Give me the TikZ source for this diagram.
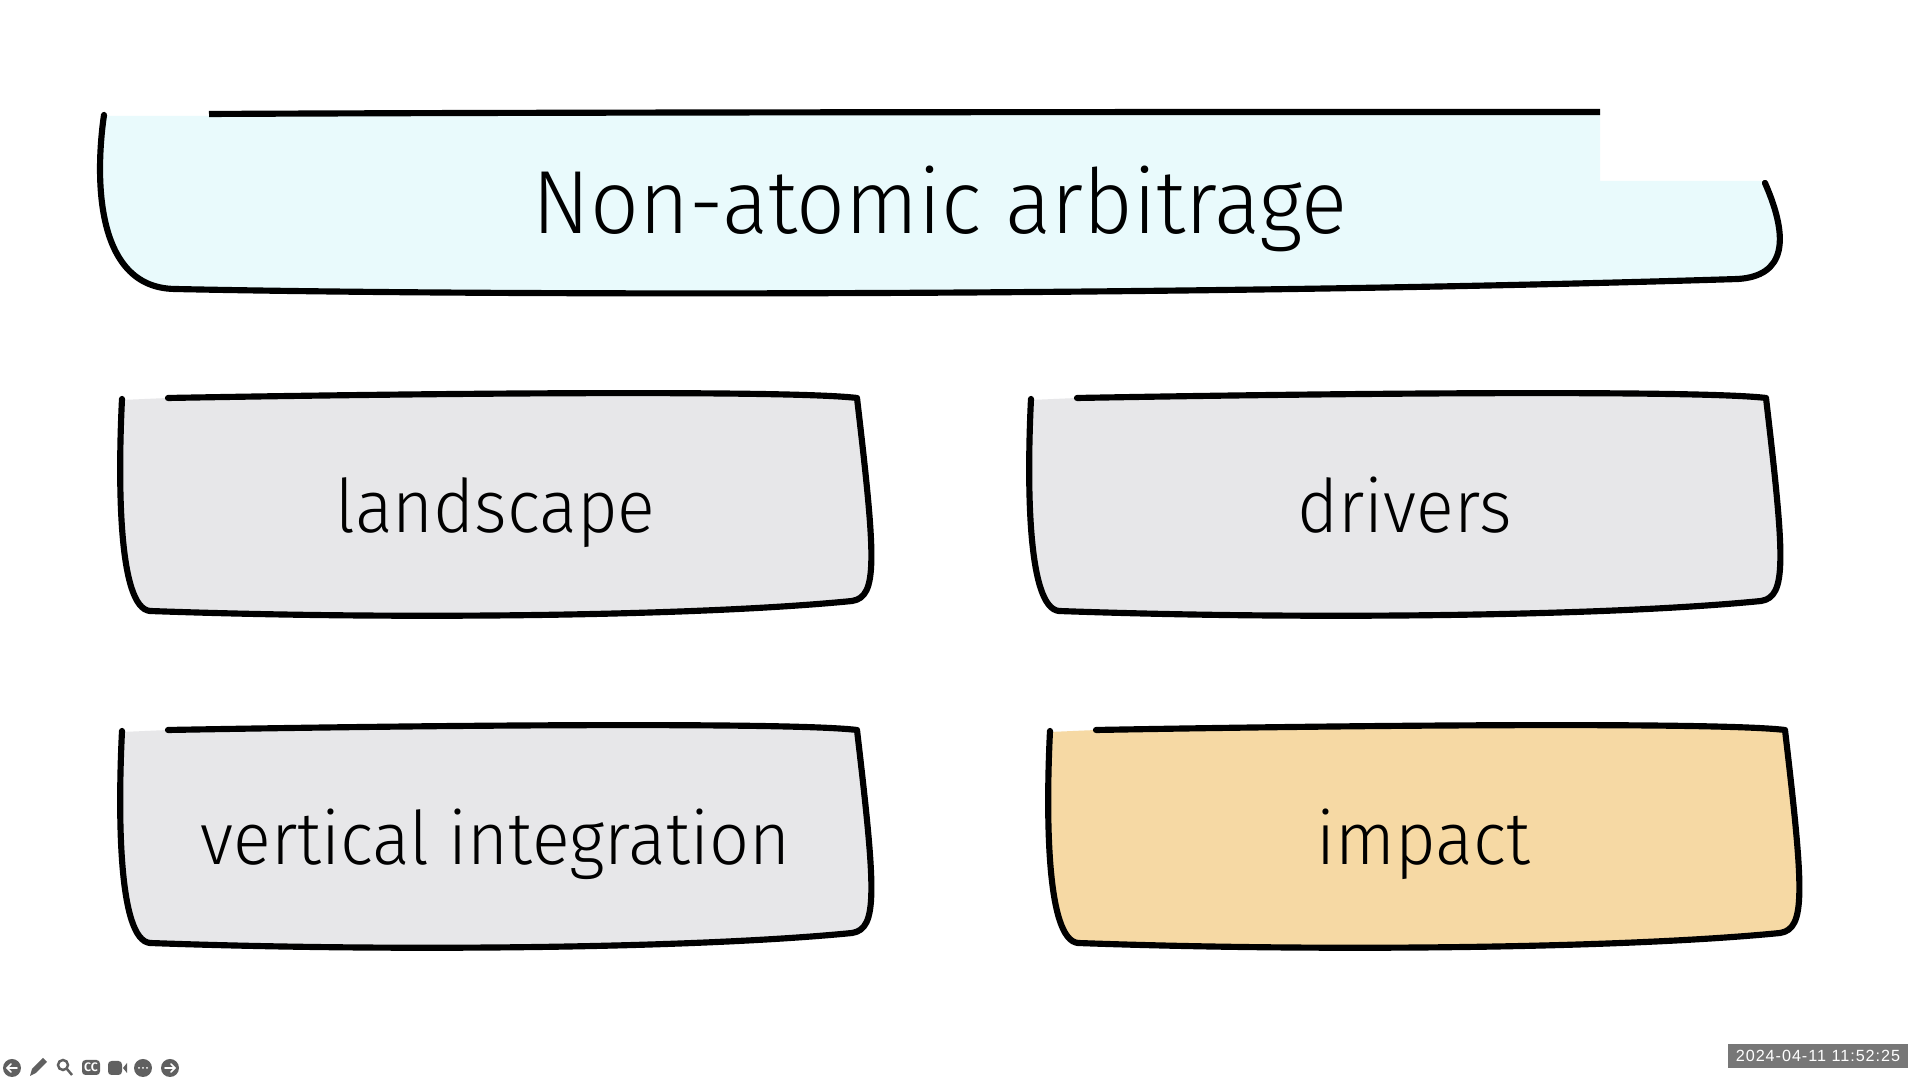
\documentclass[tikz,border=0pt]{standalone}
\usepackage{fontspec}
\setmainfont{Fira Sans Light}
\newfontfamily\stampfont[LetterSpace=6]{Liberation Sans}
\newfontfamily\titlefont[FakeStretch=.955]{Fira Sans Light}
\newfontfamily\boxfont[FakeStretch=.95]{Fira Sans Light}
\definecolor{titlefill}{HTML}{E9FAFC}
\definecolor{greyfill}{HTML}{E7E7E9}
\definecolor{impactfill}{HTML}{F6D9A4}
\definecolor{iconcol}{HTML}{606060}
\definecolor{stampcol}{HTML}{777777}
\tikzset{
  x=0.01cm, y=-0.01cm,
  ink/.style={line width=1.75pt,line cap=round,line join=round,black},
  bigtext/.style={anchor=base,inner sep=0,font=\fontsize{25.5}{30}\titlefont},
  boxtext/.style={anchor=base,inner sep=0,font=\fontsize{21}{26}\boxfont},
  icon/.style={fill=iconcol,draw=none},
  iconline/.style={draw=white,line width=.45pt,line cap=round}
}

\begin{document}
\begin{tikzpicture}
    \useasboundingbox (0,0) rectangle (1920,1080);
    \fill[white] (0,0) rectangle (1920,1080);

    % title box
    \fill[titlefill] (104,116) .. controls (96,170) and (92,288) .. (175,289)
      .. controls (500,296) and (1200,296) .. (1738,279)
      .. controls (1785,276) and (1790,240) .. (1763,181)
      -- (1600,181) -- (1600,113) -- cycle;
    \draw[ink] (1765,183) .. controls (1790,240) and (1785,276) .. (1738,279)
      .. controls (1200,296) and (500,296) .. (175,289)
      .. controls (92,288) and (96,170) .. (104,115);
    \draw[ink,line cap=butt] (209,114) .. controls (600,112) and (1200,112) .. (1600,112);
    \node[bigtext] (title) at (940,234) {Non-atomic arbitrage};

    % four boxes, same outline
    \foreach \boxname/\dx/\dy/\boxfill/\boxlabel in {
        landscape/0/0/greyfill/landscape,
        drivers/909/0/greyfill/drivers,
        vertical/0/332/greyfill/vertical integration,
        impact/928/332/impactfill/impact} {
      \begin{scope}[shift={(\dx,\dy)}]
        \fill[\boxfill] (122,400) .. controls (118,480) and (118,608) .. (150,611)
          .. controls (400,620) and (700,616) .. (852,601)
          .. controls (878,597) and (876,560) .. (857,398)
          .. controls (800,391) and (500,392) .. (168,398) -- cycle;
        \draw[ink] (168,398) .. controls (500,392) and (800,391) .. (857,398)
          .. controls (876,560) and (878,597) .. (852,601)
          .. controls (700,616) and (400,620) .. (150,611)
          .. controls (118,608) and (118,480) .. (122,399);
        \node[boxtext] (\boxname) at (495.5,533) {\boxlabel};
      \end{scope}
    }

    % player controls
    \fill[icon] (12,1068) circle (9);
    \draw[iconline] (17,1068) -- (7,1068) (11,1064) -- (7,1068) -- (11,1072);
    \fill[icon] (30,1076) -- (32,1069) -- (43,1058) -- (47,1062) -- (36,1073) -- cycle;
    \draw[iconcol,line width=.7pt] (63,1065) circle (5) (67,1069) -- (72,1075);
    \fill[icon,rounded corners=1] (82,1060) rectangle (100,1075);
    \node[inner sep=0,text=white,font=\fontsize{3.5}{4}\selectfont\bfseries] (cc) at (91,1067.5) {CC};
    \fill[icon,rounded corners=1] (108,1061) rectangle (122,1075);
    \fill[icon] (123,1068) -- (127,1063) -- (127,1073) -- cycle;
    \fill[icon] (143,1068) circle (9);
    \fill[white] (139,1068) circle (1) (143,1068) circle (1) (147,1068) circle (1);
    \fill[icon] (170,1068) circle (9);
    \draw[iconline] (165,1068) -- (175,1068) (171,1064) -- (175,1068) -- (171,1072);

    % time stamp
    \fill[stampcol] (1728,1044) rectangle (1908,1068);
    \node[inner sep=0,text=white,font=\fontsize{4.6}{6}\stampfont] (stamp) at (1818,1056) {2024-04-11 11:52:25};
\end{tikzpicture}
\end{document}
